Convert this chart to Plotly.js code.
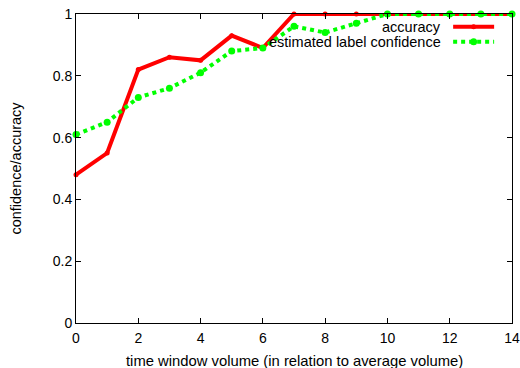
<!DOCTYPE html>
<html>
<head>
<meta charset="utf-8">
<script src="https://cdn.plot.ly/plotly-3.0.1.min.js"></script>
<style>html,body{margin:0;padding:0;background:#fff;}#chart{width:520px;height:368px;}</style>
</head>
<body>
<div id="chart"></div>
<script>
const xValues = [0,1,2,3,4,5,6,7,8,9,10,11,12,13,14];
const accuracy = [0.48,0.55,0.82,0.86,0.85,0.93,0.89,1,1,1,1,1,1,1,1];
const confidence = [0.61,0.65,0.73,0.76,0.81,0.88,0.89,0.96,0.94,0.97,1,1,1,1,1];
const seriesNames = ["accuracy","estimated label confidence"];
const xTicks = [0,2,4,6,8,10,12,14];
const yTicks = [0,0.2,0.4,0.6,0.8,1];
const yTickText = ["0","0.2","0.4","0.6","0.8","1"];
const xTitle = "time window volume (in relation to average volume)";
const yTitle = "confidence/accuracy";

const red = "#ff0000", green = "#00ff00";
const traces = [
  {x: xValues, y: accuracy, name: seriesNames[0], mode: "lines+markers",
   line: {color: red, width: 4}, marker: {color: red, size: 5}, cliponaxis: false},
  {x: xValues, y: confidence, name: seriesNames[1], mode: "lines+markers",
   line: {color: green, width: 4, dash: "dot"}, marker: {color: green, size: 7}, cliponaxis: false}
];

const fam = "Liberation Sans, Arial, sans-serif";
const font = {family: fam, size: 14.5, color: "#000"};
const legX0 = 0.865, legX1 = 0.959, legY = [0.959, 0.910];
const layout = {
  width: 520, height: 368,
  margin: {l: 76, r: 8, t: 14, b: 45},
  paper_bgcolor: "#fff", plot_bgcolor: "#fff",
  showlegend: false,
  font: font,
  xaxis: {range: [0,14], tickvals: xTicks, ticks: "inside", ticklen: 5, tickcolor: "#000",
    showline: true, linecolor: "#000", linewidth: 1, mirror: "ticks", showgrid: false, zeroline: false,
    tickfont: {family: fam, size: 14}, ticklabelstandoff: 2},
  yaxis: {range: [0,1], tickvals: yTicks, ticktext: yTickText, ticks: "inside", ticklen: 5, tickcolor: "#000",
    showline: true, linecolor: "#000", linewidth: 1, mirror: "ticks", showgrid: false, zeroline: false,
    tickfont: {family: fam, size: 14},
    title: {text: yTitle, font: {family: fam, size: 14.5}, standoff: 27}},
  annotations: [
    {text: xTitle, xref: "paper", yref: "paper", x: 0.5, y: -0.122, xanchor: "center", yanchor: "middle", showarrow: false, font: {family: fam, size: 14.8, color: "#000"}},
    {text: seriesNames[0], xref: "paper", yref: "paper", x: 0.842, y: legY[0], xanchor: "right", yanchor: "middle", showarrow: false, font: font},
    {text: seriesNames[1], xref: "paper", yref: "paper", x: 0.842, y: legY[1], xanchor: "right", yanchor: "middle", showarrow: false, font: font}
  ],
  shapes: [
    {type: "line", xref: "paper", yref: "paper", x0: legX0, x1: legX1, y0: legY[0], y1: legY[0], line: {color: red, width: 4}},
    {type: "line", xref: "paper", yref: "paper", x0: legX0, x1: legX1, y0: legY[1], y1: legY[1], line: {color: green, width: 4, dash: "dot"}},
    {type: "circle", xref: "paper", yref: "paper", xsizemode: "pixel", ysizemode: "pixel",
     xanchor: (legX0+legX1)/2, yanchor: legY[0], x0: -2.5, x1: 2.5, y0: -2.5, y1: 2.5, fillcolor: red, line: {width: 0}},
    {type: "circle", xref: "paper", yref: "paper", xsizemode: "pixel", ysizemode: "pixel",
     xanchor: (legX0+legX1)/2, yanchor: legY[1], x0: -3.5, x1: 3.5, y0: -3.5, y1: 3.5, fillcolor: green, line: {width: 0}}
  ]
};
Plotly.newPlot("chart", traces, layout, {staticPlot: true, displayModeBar: false});
</script>
</body>
</html>
